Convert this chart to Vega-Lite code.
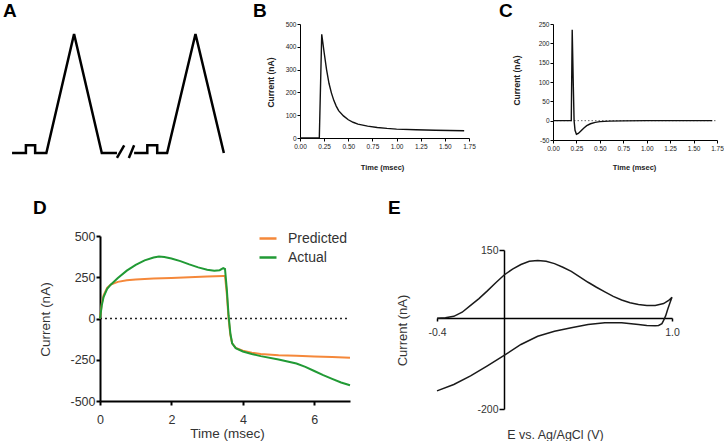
{
  "$schema": "https://vega.github.io/schema/vega-lite/v6.json",
  "padding": {"left": 3, "top": 2, "right": 0, "bottom": 0},
  "background": "white",
  "config": {
    "view": {"stroke": null},
    "font": "Liberation Sans",
    "locale": {"number": {"decimal": ".", "thousands": ",", "grouping": [3], "currency": ["$", ""], "minus": "-"}},
    "axis": {"grid": false, "domainColor": "black", "tickColor": "black", "labelColor": "#222", "titleColor": "#222", "labelFont": "Liberation Sans", "titleFont": "Liberation Sans", "titleFontWeight": "normal", "labelOverlap": false, "labelFlush": false},
    "title": {"font": "Liberation Sans", "fontSize": 19, "fontWeight": "bold", "color": "black", "anchor": "start", "frame": "group", "orient": "top", "offset": 0, "baseline": "alphabetic"}
  },
  "spacing": 27,
  "bounds": "full",
  "resolve": {"legend": {"color": "independent"}},
  "vconcat": [
    {
      "spacing": 84,
      "bounds": "flush",
      "hconcat": [
        {
          "width": 116,
          "height": 134,
          "title": {"text": "A", "dx": -97, "dy": 1},
          "data": {"values": [
            {"i": 1, "t": 0, "v": -0.4, "seg": "a"},
            {"i": 2, "t": 2.1, "v": -0.4, "seg": "a"},
            {"i": 3, "t": 2.1, "v": -0.29, "seg": "a"},
            {"i": 4, "t": 3.5, "v": -0.29, "seg": "a"},
            {"i": 5, "t": 3.5, "v": -0.4, "seg": "a"},
            {"i": 6, "t": 5.2, "v": -0.4, "seg": "a"},
            {"i": 7, "t": 9.4, "v": 1.3, "seg": "a"},
            {"i": 8, "t": 13.6, "v": -0.4, "seg": "a"},
            {"i": 9, "t": 15.9, "v": -0.4, "seg": "a"},
            {"i": 10, "t": 15.9, "v": -0.47, "seg": "b"},
            {"i": 11, "t": 17.0, "v": -0.29, "seg": "b"},
            {"i": 12, "t": 17.7, "v": -0.47, "seg": "c"},
            {"i": 13, "t": 18.5, "v": -0.29, "seg": "c"},
            {"i": 14, "t": 18.5, "v": -0.4, "seg": "d"},
            {"i": 15, "t": 20.5, "v": -0.4, "seg": "d"},
            {"i": 16, "t": 20.5, "v": -0.29, "seg": "d"},
            {"i": 17, "t": 22.0, "v": -0.29, "seg": "d"},
            {"i": 18, "t": 22.0, "v": -0.4, "seg": "d"},
            {"i": 19, "t": 23.5, "v": -0.4, "seg": "d"},
            {"i": 20, "t": 27.8, "v": 1.3, "seg": "d"},
            {"i": 21, "t": 32.1, "v": -0.4, "seg": "d"}
          ]},
          "mark": {"type": "line", "color": "black", "strokeWidth": 2.5, "strokeJoin": "miter"},
          "encoding": {
            "x": {"field": "t", "type": "quantitative", "axis": null, "scale": {"domain": [13.33, 30.91], "nice": false, "zero": false}},
            "y": {"field": "v", "type": "quantitative", "axis": null, "scale": {"domain": [-0.471, 1.443], "nice": false, "zero": false}},
            "detail": {"field": "seg", "type": "nominal"},
            "order": {"field": "i", "type": "quantitative"}
          }
        },
        {
          "width": 169,
          "height": 114,
          "title": {"text": "B", "dx": -47, "dy": 4.3},
          "data": {"values": [
            {"t": 0, "c": 0}, {"t": 0.2, "c": 0}, {"t": 0.225, "c": 455}, {"t": 0.25, "c": 375},
            {"t": 0.275, "c": 300}, {"t": 0.3, "c": 240}, {"t": 0.325, "c": 198}, {"t": 0.35, "c": 165},
            {"t": 0.375, "c": 140}, {"t": 0.4, "c": 120}, {"t": 0.45, "c": 97}, {"t": 0.5, "c": 80},
            {"t": 0.55, "c": 69}, {"t": 0.6, "c": 61}, {"t": 0.7, "c": 52}, {"t": 0.8, "c": 46},
            {"t": 0.9, "c": 42}, {"t": 1.0, "c": 39}, {"t": 1.2, "c": 36}, {"t": 1.4, "c": 34}, {"t": 1.7, "c": 32}
          ]},
          "mark": {"type": "line", "color": "#111", "strokeWidth": 1.4},
          "encoding": {
            "x": {"field": "t", "type": "quantitative", "title": "Time (msec)", "scale": {"domain": [0, 1.75], "nice": false},
              "axis": {"values": [0, 0.25, 0.5, 0.75, 1, 1.25, 1.5, 1.75], "format": ".2f", "labelFontSize": 6.5, "titleFontSize": 7.5, "titleFontWeight": "bold", "tickSize": 3, "labelPadding": 2, "domainWidth": 1, "titleX": 82, "titleY": 29, "titleBaseline": "middle", "titleAlign": "center"}},
            "y": {"field": "c", "type": "quantitative", "title": "Current (nA)", "scale": {"domain": [0, 500], "nice": false},
              "axis": {"values": [0, 100, 200, 300, 400, 500], "labelFontSize": 6.5, "titleFontSize": 8.5, "titleFontWeight": "bold", "tickSize": 3, "labelPadding": 1, "domainWidth": 1, "titleX": -30, "titleY": 58, "titleBaseline": "middle", "titleAlign": "center", "titleAngle": -90}}
          }
        },
        {
          "width": 164,
          "height": 116,
          "title": {"text": "C", "dx": -54, "dy": 4.3},
          "encoding": {
            "x": {"field": "t", "type": "quantitative", "title": "Time (msec)", "scale": {"domain": [0, 1.75], "nice": false},
              "axis": {"values": [0, 0.25, 0.5, 0.75, 1, 1.25, 1.5, 1.75], "format": ".2f", "labelFontSize": 6.5, "titleFontSize": 7.5, "titleFontWeight": "bold", "tickSize": 3, "labelPadding": 2, "domainWidth": 1, "titleX": 81, "titleY": 27, "titleBaseline": "middle", "titleAlign": "center"}},
            "y": {"field": "c", "type": "quantitative", "title": "Current (nA)", "scale": {"domain": [-50, 250], "nice": false},
              "axis": {"values": [-50, 0, 50, 100, 150, 200, 250], "labelFontSize": 6.5, "titleFontSize": 8.5, "titleFontWeight": "bold", "tickSize": 3, "labelPadding": 1, "domainWidth": 1, "titleX": -37, "titleY": 56, "titleBaseline": "middle", "titleAlign": "center", "titleAngle": -90}}
          },
          "layer": [
            {
              "data": {"values": [{"t": 0, "c": 0}, {"t": 1.75, "c": 0}]},
              "mark": {"type": "line", "strokeDash": [1.5, 2], "color": "#444", "strokeWidth": 0.8}
            },
            {
              "data": {"values": [
                {"t": 0, "c": 0}, {"t": 0.195, "c": 0}, {"t": 0.205, "c": 235}, {"t": 0.215, "c": 110},
                {"t": 0.225, "c": 0}, {"t": 0.235, "c": -25}, {"t": 0.25, "c": -35}, {"t": 0.27, "c": -33},
                {"t": 0.3, "c": -26}, {"t": 0.33, "c": -19}, {"t": 0.36, "c": -13}, {"t": 0.4, "c": -8},
                {"t": 0.45, "c": -4.5}, {"t": 0.5, "c": -2.5}, {"t": 0.6, "c": -1.2}, {"t": 0.75, "c": -0.5},
                {"t": 1.0, "c": 0}, {"t": 1.7, "c": 0}
              ]},
              "mark": {"type": "line", "color": "#111", "strokeWidth": 1.4}
            }
          ]
        }
      ]
    },
    {
      "spacing": 87,
      "bounds": "flush",
      "resolve": {"legend": {"color": "independent"}},
      "hconcat": [
        {
          "width": 250,
          "height": 165,
          "title": {"text": "D", "dx": -67, "dy": -7},
          "encoding": {
            "x": {"field": "t", "type": "quantitative", "title": "Time (msec)", "scale": {"domain": [0, 7], "nice": false},
              "axis": {"values": [0, 2, 4, 6], "labelFontSize": 12.5, "titleFontSize": 13.5, "tickSize": 4, "tickWidth": 2, "domainWidth": 2, "labelPadding": 8, "labelColor": "#333", "titleColor": "#333", "titleX": 127, "titleY": 32, "titleBaseline": "middle", "titleAlign": "center"}},
            "y": {"field": "c", "type": "quantitative", "title": "Current (nA)", "scale": {"domain": [-500, 500], "nice": false},
              "axis": {"values": [-500, -250, 0, 250, 500], "labelFontSize": 12.5, "titleFontSize": 13.5, "tickSize": 4, "tickWidth": 2, "domainWidth": 2, "labelPadding": 1, "labelColor": "#333", "titleColor": "#333", "titleX": -55, "titleY": 83, "titleBaseline": "middle", "titleAlign": "center", "titleAngle": -90}}
          },
          "layer": [
            {
              "data": {"values": [{"t": 0, "c": 0}, {"t": 7, "c": 0}]},
              "mark": {"type": "line", "strokeDash": [2, 3], "color": "#222", "strokeWidth": 1.5}
            },
            {
              "data": {"values": [
                {"t": 0, "c": 0, "s": "Predicted"}, {"t": 0.05, "c": 90, "s": "Predicted"}, {"t": 0.1, "c": 140, "s": "Predicted"},
                {"t": 0.2, "c": 185, "s": "Predicted"}, {"t": 0.3, "c": 205, "s": "Predicted"}, {"t": 0.5, "c": 222, "s": "Predicted"},
                {"t": 0.75, "c": 232, "s": "Predicted"}, {"t": 1, "c": 237, "s": "Predicted"}, {"t": 1.5, "c": 242, "s": "Predicted"},
                {"t": 2, "c": 246, "s": "Predicted"}, {"t": 2.5, "c": 250, "s": "Predicted"}, {"t": 3, "c": 254, "s": "Predicted"},
                {"t": 3.45, "c": 258, "s": "Predicted"}, {"t": 3.5, "c": 258, "s": "Predicted"}, {"t": 3.55, "c": 150, "s": "Predicted"},
                {"t": 3.6, "c": 0, "s": "Predicted"}, {"t": 3.65, "c": -100, "s": "Predicted"}, {"t": 3.7, "c": -150, "s": "Predicted"},
                {"t": 3.8, "c": -178, "s": "Predicted"}, {"t": 4, "c": -195, "s": "Predicted"}, {"t": 4.25, "c": -208, "s": "Predicted"},
                {"t": 4.5, "c": -215, "s": "Predicted"}, {"t": 5, "c": -222, "s": "Predicted"}, {"t": 5.5, "c": -226, "s": "Predicted"},
                {"t": 6, "c": -230, "s": "Predicted"}, {"t": 6.5, "c": -234, "s": "Predicted"}, {"t": 7, "c": -238, "s": "Predicted"},
                {"t": 0, "c": 0, "s": "Actual"}, {"t": 0.05, "c": 80, "s": "Actual"}, {"t": 0.1, "c": 130, "s": "Actual"},
                {"t": 0.2, "c": 180, "s": "Actual"}, {"t": 0.3, "c": 205, "s": "Actual"}, {"t": 0.5, "c": 245, "s": "Actual"},
                {"t": 0.75, "c": 290, "s": "Actual"}, {"t": 1, "c": 325, "s": "Actual"}, {"t": 1.25, "c": 352, "s": "Actual"},
                {"t": 1.5, "c": 370, "s": "Actual"}, {"t": 1.65, "c": 375, "s": "Actual"}, {"t": 1.8, "c": 373, "s": "Actual"},
                {"t": 2, "c": 364, "s": "Actual"}, {"t": 2.25, "c": 348, "s": "Actual"}, {"t": 2.5, "c": 328, "s": "Actual"},
                {"t": 2.75, "c": 310, "s": "Actual"}, {"t": 3, "c": 296, "s": "Actual"}, {"t": 3.2, "c": 290, "s": "Actual"},
                {"t": 3.35, "c": 293, "s": "Actual"}, {"t": 3.45, "c": 305, "s": "Actual"}, {"t": 3.5, "c": 300, "s": "Actual"},
                {"t": 3.55, "c": 180, "s": "Actual"}, {"t": 3.6, "c": 20, "s": "Actual"}, {"t": 3.65, "c": -90, "s": "Actual"},
                {"t": 3.7, "c": -150, "s": "Actual"}, {"t": 3.8, "c": -180, "s": "Actual"}, {"t": 4, "c": -200, "s": "Actual"},
                {"t": 4.25, "c": -215, "s": "Actual"}, {"t": 4.5, "c": -228, "s": "Actual"}, {"t": 5, "c": -248, "s": "Actual"},
                {"t": 5.5, "c": -273, "s": "Actual"}, {"t": 5.75, "c": -293, "s": "Actual"}, {"t": 6, "c": -318, "s": "Actual"},
                {"t": 6.25, "c": -343, "s": "Actual"}, {"t": 6.5, "c": -366, "s": "Actual"}, {"t": 6.75, "c": -388, "s": "Actual"},
                {"t": 7, "c": -405, "s": "Actual"}
              ]},
              "mark": {"type": "line", "strokeWidth": 2},
              "encoding": {
                "color": {"field": "s", "type": "nominal", "scale": {"domain": ["Predicted", "Actual"], "range": ["#F5883A", "#219A35"]},
                  "legend": {"orient": "none", "legendX": 158, "legendY": -7.5, "title": null, "symbolType": "stroke", "symbolSize": 289, "symbolStrokeWidth": 2.5, "labelFontSize": 14, "labelFont": "Liberation Sans", "labelColor": "#333", "rowPadding": 2, "labelOffset": 10, "padding": 0}}
              }
            }
          ]
        },
        {
          "spacing": 13,
          "bounds": "flush",
          "vconcat": [
            {"width": 235, "height": 1, "data": {"values": []}, "mark": "point"},
            {
              "width": 235,
              "height": 159,
              "title": {"text": "E", "dx": -49, "dy": -22.7},
              "data": {"values": [
                {"k": 1, "e": -0.4, "c": 0}, {"k": 2, "e": -0.35, "c": 1}, {"k": 3, "e": -0.3, "c": 4},
                {"k": 4, "e": -0.25, "c": 13}, {"k": 5, "e": -0.2, "c": 28}, {"k": 6, "e": -0.15, "c": 43},
                {"k": 7, "e": -0.1, "c": 60}, {"k": 8, "e": -0.05, "c": 78}, {"k": 9, "e": 0, "c": 95},
                {"k": 10, "e": 0.05, "c": 108}, {"k": 11, "e": 0.1, "c": 118}, {"k": 12, "e": 0.15, "c": 125},
                {"k": 13, "e": 0.2, "c": 127}, {"k": 14, "e": 0.25, "c": 125}, {"k": 15, "e": 0.3, "c": 120},
                {"k": 16, "e": 0.35, "c": 112}, {"k": 17, "e": 0.4, "c": 103}, {"k": 18, "e": 0.45, "c": 91},
                {"k": 19, "e": 0.5, "c": 79}, {"k": 20, "e": 0.55, "c": 68}, {"k": 21, "e": 0.6, "c": 58},
                {"k": 22, "e": 0.65, "c": 48}, {"k": 23, "e": 0.7, "c": 40}, {"k": 24, "e": 0.75, "c": 34},
                {"k": 25, "e": 0.8, "c": 30}, {"k": 26, "e": 0.85, "c": 28}, {"k": 27, "e": 0.9, "c": 28},
                {"k": 28, "e": 0.95, "c": 32}, {"k": 29, "e": 0.98, "c": 39}, {"k": 30, "e": 1.0, "c": 46},
                {"k": 31, "e": 0.99, "c": 36}, {"k": 32, "e": 0.975, "c": 20}, {"k": 33, "e": 0.962, "c": 5},
                {"k": 34, "e": 0.95, "c": -5}, {"k": 35, "e": 0.94, "c": -12}, {"k": 36, "e": 0.92, "c": -16},
                {"k": 37, "e": 0.9, "c": -17}, {"k": 38, "e": 0.85, "c": -16}, {"k": 39, "e": 0.8, "c": -14},
                {"k": 40, "e": 0.7, "c": -10}, {"k": 41, "e": 0.6, "c": -10}, {"k": 42, "e": 0.5, "c": -14},
                {"k": 43, "e": 0.4, "c": -21}, {"k": 44, "e": 0.3, "c": -29}, {"k": 45, "e": 0.2, "c": -40},
                {"k": 46, "e": 0.1, "c": -58}, {"k": 47, "e": 0, "c": -82}, {"k": 48, "e": -0.1, "c": -105},
                {"k": 49, "e": -0.2, "c": -127}, {"k": 50, "e": -0.3, "c": -146}, {"k": 51, "e": -0.4, "c": -160}
              ]},
              "mark": {"type": "line", "color": "#1a1a1a", "strokeWidth": 1.5},
              "encoding": {
                "x": {"field": "e", "type": "quantitative", "title": "E vs. Ag/AgCl (V)", "scale": {"domain": [-0.4, 1.0], "nice": false, "zero": false},
                  "axis": {"values": [-0.4, 1.0], "format": ".1f", "offset": -91, "labelFontSize": 10.5, "titleFontSize": 12.5, "tickSize": 3, "tickWidth": 1.5, "domainWidth": 1.5, "labelPadding": 6, "labelColor": "#333", "titleColor": "#333", "titleX": 118, "titleY": 116, "titleBaseline": "middle", "titleAlign": "center"}},
                "y": {"field": "c", "type": "quantitative", "title": "Current (nA)", "scale": {"domain": [-200, 150], "nice": false, "zero": false},
                  "axis": {"values": [-200, 150], "offset": -67, "labelFontSize": 10.5, "titleFontSize": 13, "tickSize": 5, "tickWidth": 1.5, "domainWidth": 1.5, "labelPadding": 1, "labelColor": "#333", "titleColor": "#333", "titleX": -102, "titleY": 80, "titleBaseline": "middle", "titleAlign": "center", "titleAngle": -90}},
                "order": {"field": "k", "type": "quantitative"}
              }
            }
          ]
        }
      ]
    }
  ]
}
